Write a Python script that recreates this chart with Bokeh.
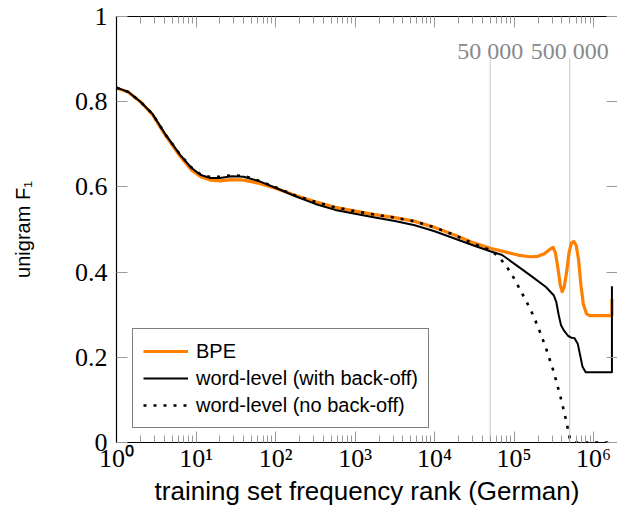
from bokeh.plotting import figure
from bokeh.models import (Range1d, FixedTicker, LogAxis, LinearAxis, Label,
                          Legend, LegendItem, ColumnDataSource)
from bokeh.embed import file_html
from bokeh.resources import INLINE

# ---------------- data (log10 of training-set frequency rank, unigram F1) -------------
bpe_logrank = [0, 0.15, 0.3, 0.45, 0.62, 0.8, 0.94, 1.06, 1.18, 1.3, 1.45, 1.6, 1.8, 2.0,
               2.25, 2.5, 2.75, 3.0, 3.25, 3.5, 3.75, 4.0, 4.25, 4.5, 4.7, 4.9, 5.05, 5.2,
               5.3, 5.38, 5.44, 5.49, 5.52, 5.55, 5.58, 5.605, 5.63, 5.66, 5.69, 5.72,
               5.75, 5.78, 5.81, 5.84, 5.87, 5.91, 5.95, 6.23, 6.23]
bpe_f1 = [0.832, 0.822, 0.80, 0.77, 0.72, 0.672, 0.64, 0.624, 0.616, 0.614, 0.617, 0.616,
          0.608, 0.597, 0.58, 0.565, 0.552, 0.543, 0.535, 0.528, 0.519, 0.505, 0.487,
          0.468, 0.456, 0.447, 0.44, 0.436, 0.437, 0.443, 0.452, 0.458, 0.445, 0.41, 0.37,
          0.354, 0.365, 0.40, 0.445, 0.468, 0.472, 0.463, 0.43, 0.37, 0.325, 0.302, 0.298,
          0.298, 0.337]

wb_logrank = [0, 0.15, 0.3, 0.45, 0.62, 0.8, 0.94, 1.06, 1.18, 1.3, 1.45, 1.6, 1.8, 2.0,
              2.25, 2.5, 2.75, 3.0, 3.25, 3.5, 3.75, 4.0, 4.25, 4.5, 4.7, 4.85, 5.0, 5.2,
              5.4, 5.5, 5.53, 5.56, 5.59, 5.63, 5.68, 5.72, 5.76, 5.8, 5.83, 5.86, 5.9,
              6.23, 6.23]
wb_f1 = [0.833, 0.823, 0.80, 0.772, 0.722, 0.675, 0.645, 0.628, 0.621, 0.621, 0.625, 0.624,
         0.613, 0.598, 0.578, 0.56, 0.546, 0.537, 0.528, 0.52, 0.51, 0.496, 0.479, 0.462,
         0.449, 0.44, 0.42, 0.393, 0.365, 0.345, 0.33, 0.30, 0.275, 0.262, 0.25, 0.246,
         0.245, 0.232, 0.205, 0.178, 0.165, 0.165, 0.367]

nb_logrank = [0, 0.15, 0.3, 0.45, 0.62, 0.8, 0.94, 1.06, 1.18, 1.3, 1.45, 1.6, 1.8, 2.0,
              2.25, 2.5, 2.75, 3.0, 3.25, 3.5, 3.75, 4.0, 4.25, 4.5, 4.7, 4.8, 4.9, 5.0,
              5.1, 5.2, 5.3, 5.4, 5.5, 5.6, 5.65, 5.7, 5.75, 6.23]
nb_f1 = [0.833, 0.823, 0.80, 0.772, 0.722, 0.676, 0.646, 0.629, 0.623, 0.624, 0.627, 0.626,
         0.614, 0.599, 0.58, 0.565, 0.552, 0.543, 0.535, 0.528, 0.519, 0.505, 0.487, 0.466,
         0.452, 0.437, 0.415, 0.385, 0.35, 0.315, 0.272, 0.222, 0.165, 0.095, 0.055, 0.01,
         0.0, 0.0]

series_names = ["BPE", "word-level (with back-off)", "word-level (no back-off)"]
marker_ranks = [50000, 500000]
marker_labels = ["50 000", "500 000"]
x_tick_exponents = [0, 1, 2, 3, 4, 5, 6]
x_tick_labels = ["10⁰", "10¹", "10²", "10³", "10⁴", "10⁵", "10⁶"]
y_ticks = [0, 0.2, 0.4, 0.6, 0.8, 1.0]
y_tick_labels = ["0", "0.2", "0.4", "0.6", "0.8", "1"]
x_title = "training set frequency rank (German)"
y_title = "unigram F₁"

# ---------------- styling ----------------
ORANGE = "#ff8000"
TICK = "#9a9a9a"
GREY_TXT = "#8a8a8a"
SERIF = "Liberation Serif"
SANS = "Liberation Sans"
X_END_EXP = 6.3

p = figure(width=617, height=508, x_axis_type="log",
           x_range=Range1d(1, 10 ** X_END_EXP), y_range=Range1d(0, 1),
           output_backend="svg", toolbar_location=None,
           min_border_left=116, min_border_right=0, min_border_top=16,
           min_border_bottom=0)
p.outline_line_color = None
p.grid.visible = False
p.background_fill_color = "white"
p.border_fill_color = "white"

major_x = [10 ** e for e in x_tick_exponents]
minor_x = [k * 10 ** e for e in x_tick_exponents for k in range(2, 10)
           if k * 10 ** e <= 10 ** X_END_EXP]
xticker = FixedTicker(ticks=major_x, minor_ticks=minor_x)
yticker = FixedTicker(ticks=y_ticks, minor_ticks=[])


def style_x_axis(ax):
    ax.ticker = xticker
    ax.major_tick_in = 11
    ax.major_tick_out = 0
    ax.minor_tick_in = 7
    ax.minor_tick_out = 0
    ax.major_tick_line_color = TICK
    ax.minor_tick_line_color = TICK
    ax.axis_line_color = "black"
    ax.axis_line_width = 1.2


xax = p.xaxis[0]
style_x_axis(xax)
xax.major_label_overrides = dict(zip(major_x, x_tick_labels))
xax.major_label_text_font = SERIF
xax.major_label_text_font_size = "26px"
xax.major_label_text_color = "black"
xax.major_label_standoff = 1
xax.axis_label = x_title
xax.axis_label_text_font = SANS
xax.axis_label_text_font_size = "26px"
xax.axis_label_text_font_style = "normal"
xax.axis_label_text_color = "black"
xax.axis_label_standoff = 0

top = LogAxis()
style_x_axis(top)
top.major_label_text_font_size = "0px"
top.major_label_standoff = 0
top.major_label_overrides = {t: "" for t in major_x}
p.add_layout(top, "above")

yax = p.yaxis[0]
yax.ticker = yticker
yax.major_tick_in = 11
yax.major_tick_out = 0
yax.minor_tick_line_color = None
yax.major_tick_line_color = TICK
yax.axis_line_color = "black"
yax.axis_line_width = 1.2
yax.major_label_text_font = SERIF
yax.major_label_text_font_size = "26px"
yax.major_label_text_color = "black"
yax.major_label_standoff = 9
yax.major_label_overrides = dict(zip(y_ticks, y_tick_labels))
yax.axis_label = y_title
yax.axis_label_text_font = SANS
yax.axis_label_text_font_size = "20px"
yax.axis_label_text_font_style = "normal"
yax.axis_label_text_color = "black"
yax.axis_label_standoff = 38

right = LinearAxis(ticker=yticker)
right.major_tick_in = 11
right.major_tick_out = 0
right.minor_tick_line_color = None
right.major_tick_line_color = TICK
right.axis_line_color = None
right.major_label_text_font_size = "0px"
right.major_label_standoff = 0
right.major_label_overrides = {t: "" for t in y_ticks}
p.add_layout(right, "right")

# marker lines at 50 000 and 500 000
p.segment(x0=marker_ranks, y0=[0] * len(marker_ranks), x1=marker_ranks,
          y1=[0.902] * len(marker_ranks), line_color="#c8c8c8", line_width=1)
for r, t in zip(marker_ranks, marker_labels):
    p.add_layout(Label(x=r, y=1, y_offset=-34, text=t, text_align="center",
                       text_baseline="alphabetic", text_font=SERIF,
                       text_font_size="24px", text_color=GREY_TXT))

# series
src_bpe = ColumnDataSource(dict(x=[10 ** v for v in bpe_logrank], y=bpe_f1))
src_wb = ColumnDataSource(dict(x=[10 ** v for v in wb_logrank], y=wb_f1))
src_nb = ColumnDataSource(dict(x=[10 ** v for v in nb_logrank], y=nb_f1))
r_bpe = p.line("x", "y", source=src_bpe, line_color=ORANGE, line_width=3.2,
               line_join="round")
r_wb = p.line("x", "y", source=src_wb, line_color="black", line_width=2,
              line_join="round")
r_nb = p.line("x", "y", source=src_nb, line_color="black", line_width=2.6,
              line_dash="3 7")

legend = Legend(items=[LegendItem(label=series_names[0], renderers=[r_bpe]),
                       LegendItem(label=series_names[1], renderers=[r_wb]),
                       LegendItem(label=series_names[2], renderers=[r_nb])],
                location=(16, 14), orientation="vertical",
                border_line_color="black", border_line_width=1,
                background_fill_color="white", background_fill_alpha=1,
                label_text_font=SANS, label_text_font_size="20px",
                label_text_color="black",
                glyph_width=45, glyph_height=24, label_height=24,
                label_standoff=8, spacing=3, padding=10, margin=0)
p.add_layout(legend, "center")

open("out.html", "w").write(file_html(p, INLINE))
